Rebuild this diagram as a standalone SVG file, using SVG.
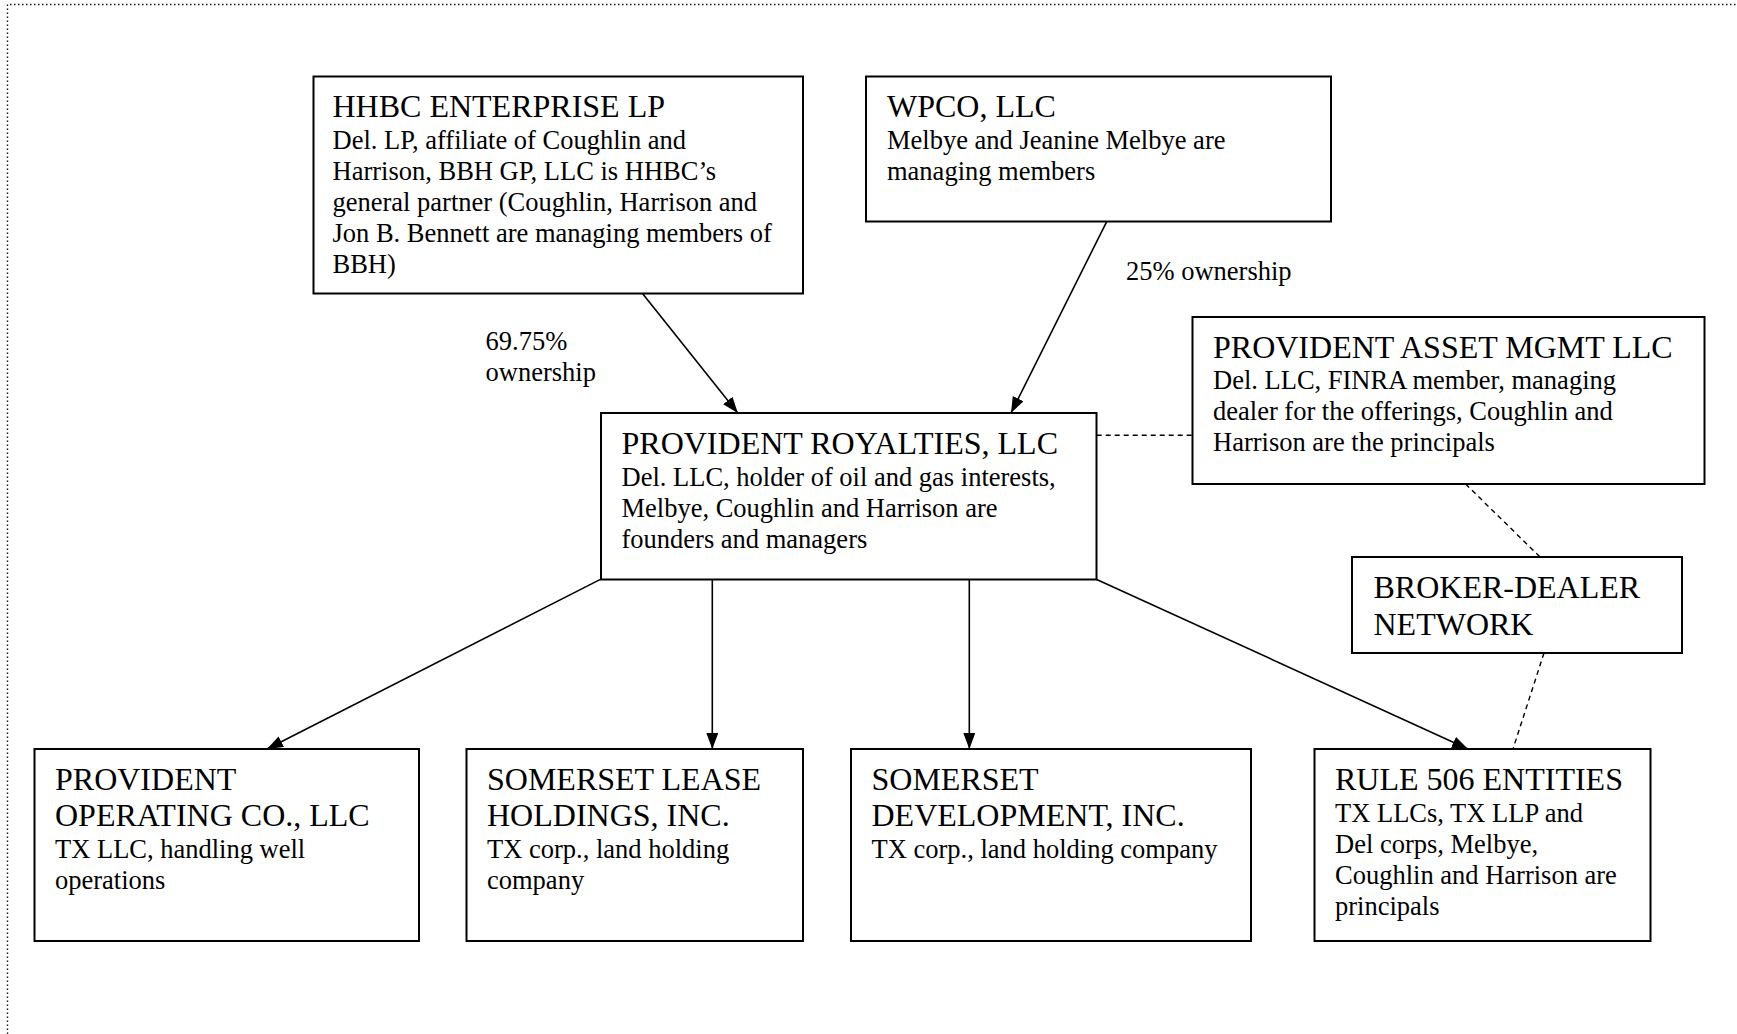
<svg xmlns="http://www.w3.org/2000/svg" width="1737" height="1034" viewBox="0 0 1737 1034">
<defs>
<style>
.box{fill:#fff;stroke:#000;stroke-width:2}
.t{font-family:"Liberation Serif","Times New Roman",serif;font-size:32px;fill:#000}
.b{font-family:"Liberation Serif","Times New Roman",serif;font-size:26.5px;fill:#000}
.c{stroke:#000;stroke-width:1.6;fill:none}
.d{stroke:#000;stroke-width:1.4;fill:none;stroke-dasharray:5 4}
.frame{stroke:#111;stroke-width:1.4;fill:none;stroke-dasharray:1.5 2.5}
</style>
<marker id="ah" markerUnits="userSpaceOnUse" markerWidth="17" markerHeight="13" refX="16" refY="6" orient="auto">
<path d="M0,0 L16,6 L0,12 z" fill="#000"/>
</marker>
</defs>
<rect width="1737" height="1034" fill="#fff"/>
<path class="frame" d="M7.5,1034 L7.5,4.5 L1737,4.5"/>

<g id="connectors">
<line class="c" x1="642.5" y1="293.6" x2="737.8" y2="413" marker-end="url(#ah)"/>
<line class="c" x1="1106.7" y1="221.6" x2="1011" y2="413" marker-end="url(#ah)"/>
<line class="c" x1="600.4" y1="579.4" x2="267" y2="749" marker-end="url(#ah)"/>
<line class="c" x1="712.3" y1="579.4" x2="712.3" y2="749" marker-end="url(#ah)"/>
<line class="c" x1="969.3" y1="579.4" x2="969.3" y2="749" marker-end="url(#ah)"/>
<line class="c" x1="1096.7" y1="579.4" x2="1468" y2="749" marker-end="url(#ah)"/>
<line class="d" x1="1096.7" y1="435.3" x2="1193" y2="435.3"/>
<line class="d" x1="1465.6" y1="484" x2="1540" y2="557"/>
<line class="d" x1="1544" y1="653" x2="1513" y2="749"/>
<text class="b" x="485.5" y="350">69.75%</text>
<text class="b" x="485.5" y="381">ownership</text>
<text class="b" x="1126" y="280">25% ownership</text>
</g>

<g id="hhbc">
<rect class="box" x="313.5" y="76.5" width="489.5" height="217"/>
<text class="t" x="332.5" y="117">HHBC ENTERPRISE LP</text>
<text class="b" x="332.5" y="149">Del. LP, affiliate of Coughlin and</text>
<text class="b" x="332.5" y="180">Harrison, BBH GP, LLC is HHBC’s</text>
<text class="b" x="332.5" y="211">general partner (Coughlin, Harrison and</text>
<text class="b" x="332.5" y="242">Jon B. Bennett are managing members of</text>
<text class="b" x="332.5" y="273">BBH)</text>
</g>

<g id="wpco">
<rect class="box" x="866" y="76.5" width="465" height="145"/>
<text class="t" x="887" y="117">WPCO, LLC</text>
<text class="b" x="887" y="149">Melbye and Jeanine Melbye are</text>
<text class="b" x="887" y="180">managing members</text>
</g>

<g id="pam">
<rect class="box" x="1192.5" y="317" width="512" height="167"/>
<text class="t" x="1213" y="358">PROVIDENT ASSET MGMT LLC</text>
<text class="b" x="1213" y="389">Del. LLC, FINRA member, managing</text>
<text class="b" x="1213" y="420">dealer for the offerings, Coughlin and</text>
<text class="b" x="1213" y="451">Harrison are the principals</text>
</g>

<g id="royalties">
<rect class="box" x="601" y="413" width="495.5" height="166.5"/>
<text class="t" x="621.5" y="454">PROVIDENT ROYALTIES, LLC</text>
<text class="b" x="621.5" y="486">Del. LLC, holder of oil and gas interests,</text>
<text class="b" x="621.5" y="517">Melbye, Coughlin and Harrison are</text>
<text class="b" x="621.5" y="548">founders and managers</text>
</g>

<g id="broker">
<rect class="box" x="1352" y="557" width="330" height="96"/>
<text class="t" x="1373.5" y="598">BROKER-DEALER</text>
<text class="t" x="1373.5" y="635">NETWORK</text>
</g>

<g id="operating">
<rect class="box" x="34.5" y="749" width="384.5" height="192"/>
<text class="t" x="55" y="790">PROVIDENT</text>
<text class="t" x="55" y="826">OPERATING CO., LLC</text>
<text class="b" x="55" y="858">TX LLC, handling well</text>
<text class="b" x="55" y="889">operations</text>
</g>

<g id="lease">
<rect class="box" x="466.5" y="749" width="336.5" height="192"/>
<text class="t" x="487" y="790">SOMERSET LEASE</text>
<text class="t" x="487" y="826">HOLDINGS, INC.</text>
<text class="b" x="487" y="858">TX corp., land holding</text>
<text class="b" x="487" y="889">company</text>
</g>

<g id="development">
<rect class="box" x="851" y="749" width="400" height="192"/>
<text class="t" x="871.5" y="790">SOMERSET</text>
<text class="t" x="871.5" y="826">DEVELOPMENT, INC.</text>
<text class="b" x="871.5" y="858">TX corp., land holding company</text>
</g>

<g id="rule506">
<rect class="box" x="1314.5" y="749" width="336" height="192"/>
<text class="t" x="1335" y="790">RULE 506 ENTITIES</text>
<text class="b" x="1335" y="822">TX LLCs, TX LLP and</text>
<text class="b" x="1335" y="853">Del corps, Melbye,</text>
<text class="b" x="1335" y="884">Coughlin and Harrison are</text>
<text class="b" x="1335" y="915">principals</text>
</g>
</svg>
